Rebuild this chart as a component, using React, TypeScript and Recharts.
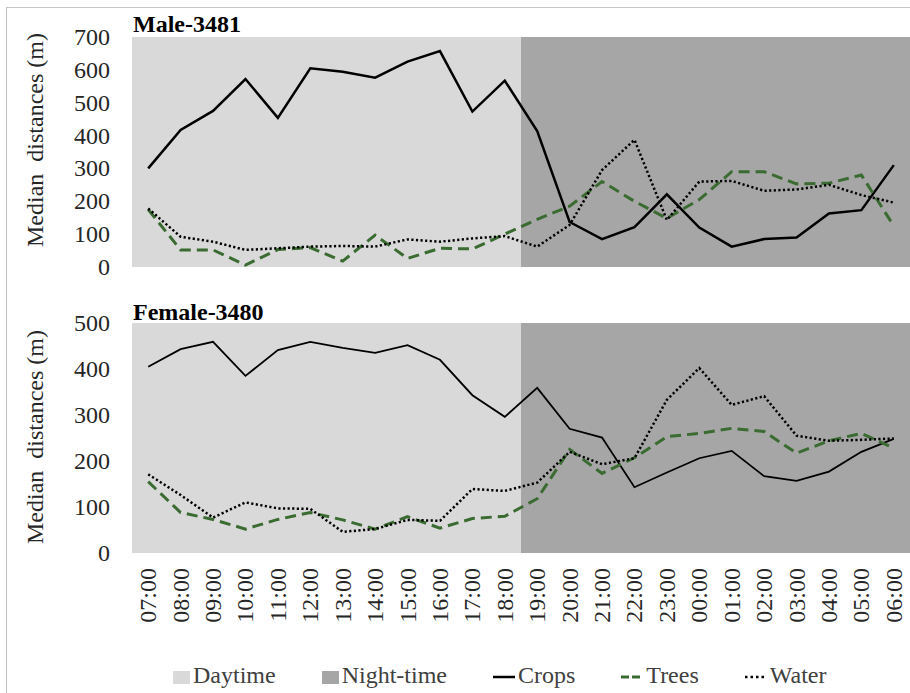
import React from 'react';
import { LineChart, Line, XAxis, YAxis, ReferenceArea } from 'recharts';

const hours = [
  '07:00', '08:00', '09:00', '10:00', '11:00', '12:00', '13:00', '14:00',
  '15:00', '16:00', '17:00', '18:00', '19:00', '20:00', '21:00', '22:00',
  '23:00', '00:00', '01:00', '02:00', '03:00', '04:00', '05:00', '06:00',
];

const maleCrops = [300, 417, 475, 572, 454, 605, 594, 576, 625, 657, 473, 567, 414, 137, 85, 121, 221, 120, 62, 85, 90, 163, 173, 310];
const maleTrees = [175, 52, 52, 6, 53, 59, 18, 97, 26, 57, 55, 100, 145, 185, 260, 200, 148, 205, 290, 290, 253, 255, 280, 125];
const maleWater = [178, 92, 77, 52, 57, 62, 64, 62, 84, 77, 87, 94, 62, 128, 295, 387, 143, 260, 262, 232, 236, 250, 219, 196];

const femaleCrops = [405, 443, 459, 385, 441, 459, 446, 435, 452, 420, 343, 296, 359, 270, 251, 143, 175, 206, 222, 167, 157, 177, 220, 248];
const femaleTrees = [155, 88, 73, 52, 73, 88, 72, 52, 79, 54, 75, 80, 118, 225, 173, 207, 253, 260, 271, 264, 217, 244, 260, 228];
const femaleWater = [171, 126, 77, 110, 97, 96, 46, 52, 72, 70, 139, 135, 153, 220, 193, 206, 333, 402, 322, 341, 255, 244, 246, 249];

const maleTicks = [0, 100, 200, 300, 400, 500, 600, 700];
const femaleTicks = [0, 100, 200, 300, 400, 500];

// day ends half way between 18:00 and 19:00
const dayEnd = 11.5;

const FONT = '"Liberation Serif", "Times New Roman", serif';
const DAY = '#d9d9d9';
const NIGHT = '#a6a6a6';
const GREEN = '#3a6b30';

const build = (crops: number[], trees: number[], water: number[]) =>
  hours.map((h, i) => ({ idx: i, hour: h, crops: crops[i], trees: trees[i], water: water[i] }));

const maleData = build(maleCrops, maleTrees, maleWater);
const femaleData = build(femaleCrops, femaleTrees, femaleWater);

const yLabel = (cy: number) => ({
  content: () => (
    <text
      x={35}
      y={cy}
      transform={`rotate(-90 35 ${cy})`}
      textAnchor="middle"
      dominantBaseline="central"
      fontSize={24}
      fontFamily={FONT}
      fill="#262626"
      style={{ whiteSpace: 'pre', fontFamily: FONT }}
    >
      {'Median  distances (m)'}
    </text>
  ),
});

const HourTick = ({ x, y, payload }: any) => (
  <text
    x={x}
    y={y}
    transform={`rotate(-90 ${x} ${y})`}
    textAnchor="end"
    dominantBaseline="central"
    fontSize={24}
    fontFamily={FONT}
    fill="#262626"
    style={{ fontFamily: FONT }}
  >
    {hours[payload.value]}
  </text>
);

const ValueTick = ({ x, y, payload }: any) => (
  <text
    x={x}
    y={y}
    textAnchor="end"
    dominantBaseline="central"
    fontSize={24}
    fill="#262626"
    style={{ fontFamily: FONT }}
  >
    {payload.value}
  </text>
);

const legendItems = [
  { label: 'Daytime', kind: 'box', color: DAY },
  { label: 'Night-time', kind: 'box', color: NIGHT },
  { label: 'Crops', kind: 'line', color: '#000', dash: undefined },
  { label: 'Trees', kind: 'line', color: GREEN, dash: '8 3' },
  { label: 'Water', kind: 'line', color: '#000', dash: '2.5 3' },
];

function Legend() {
  return (
    <div
      style={{
        position: 'absolute',
        left: 173,
        top: 661,
        height: 28,
        display: 'flex',
        alignItems: 'center',
        gap: 46,
        fontFamily: FONT,
        fontSize: 24,
        lineHeight: '28px',
        color: '#404040',
        whiteSpace: 'nowrap',
      }}
    >
      {legendItems.map((it) => (
        <div key={it.label} style={{ display: 'flex', alignItems: 'center', gap: 3 }}>
          {it.kind === 'box' ? (
            <div style={{ width: 17, height: 13, background: it.color, marginTop: 4 }} />
          ) : (
            <svg width={22} height={14} style={{ marginTop: 3 }}>
              <line
                x1={0}
                y1={7}
                x2={22}
                y2={7}
                stroke={it.color}
                strokeWidth={it.label === 'Trees' ? 3 : 2.5}
                strokeDasharray={it.dash}
              />
            </svg>
          )}
          <span>{it.label}</span>
        </div>
      ))}
    </div>
  );
}

const titleStyle: React.CSSProperties = {
  position: 'absolute',
  left: 133,
  fontFamily: FONT,
  fontWeight: 'bold',
  fontSize: 24,
  lineHeight: '24px',
  color: '#000',
};

export default function App() {
  return (
    <div
      style={{
        position: 'absolute',
        left: 0,
        top: 0,
        width: 910,
        height: 693,
        background: '#fff',
        overflow: 'hidden',
        fontFamily: FONT,
      }}
    >
      <div
        style={{
          position: 'absolute',
          left: 6,
          top: 7,
          width: 904,
          height: 686,
          borderTop: '1px solid #c4c4c4',
          borderLeft: '1px solid #c4c4c4',
        }}
      />

      <div style={{ position: 'absolute', left: 0, top: 0 }}>
        <LineChart width={910} height={280} data={maleData} margin={{ top: 37, right: 0, bottom: 13, left: 0 }}>
          <XAxis dataKey="idx" type="number" domain={[-0.5, 23.5]} hide />
          <YAxis
            width={132}
            domain={[0, 700]}
            ticks={maleTicks}
            interval={0}
            axisLine={false}
            tickLine={false}
            tickSize={0}
            tickMargin={22}
            tick={<ValueTick />}
            label={yLabel(140)}
          />
          <ReferenceArea x1={-0.5} x2={dayEnd} fill={DAY} fillOpacity={1} stroke="none" />
          <ReferenceArea x1={dayEnd} x2={23.5} fill={NIGHT} fillOpacity={1} stroke="none" />
          <Line type="linear" dataKey="crops" stroke="#000" strokeWidth={2.5} dot={false} isAnimationActive={false} />
          <Line type="linear" dataKey="trees" stroke={GREEN} strokeWidth={3} strokeDasharray="11 6" dot={false} isAnimationActive={false} />
          <Line type="linear" dataKey="water" stroke="#000" strokeWidth={2.5} strokeDasharray="2.2 2.4" dot={false} isAnimationActive={false} />
        </LineChart>
      </div>

      <div style={{ position: 'absolute', left: 0, top: 280 }}>
        <LineChart width={910} height={360} data={femaleData} margin={{ top: 43, right: 0, bottom: 0, left: 0 }}>
          <XAxis
            dataKey="idx"
            type="number"
            domain={[-0.5, 23.5]}
            ticks={hours.map((_, i) => i)}
            interval={0}
            height={87}
            axisLine={false}
            tickLine={false}
            tickSize={0}
            tickMargin={15}
            tick={<HourTick />}
          />
          <YAxis
            width={132}
            domain={[0, 500]}
            ticks={femaleTicks}
            interval={0}
            axisLine={false}
            tickLine={false}
            tickSize={0}
            tickMargin={22}
            tick={<ValueTick />}
            label={yLabel(437 - 280)}
          />
          <ReferenceArea x1={-0.5} x2={dayEnd} fill={DAY} fillOpacity={1} stroke="none" />
          <ReferenceArea x1={dayEnd} x2={23.5} fill={NIGHT} fillOpacity={1} stroke="none" />
          <Line type="linear" dataKey="crops" stroke="#000" strokeWidth={1.8} dot={false} isAnimationActive={false} />
          <Line type="linear" dataKey="trees" stroke={GREEN} strokeWidth={3} strokeDasharray="11 6" dot={false} isAnimationActive={false} />
          <Line type="linear" dataKey="water" stroke="#000" strokeWidth={2.5} strokeDasharray="2.2 2.4" dot={false} isAnimationActive={false} />
        </LineChart>
      </div>

      <div style={{ ...titleStyle, top: 12 }}>Male-3481</div>
      <div style={{ ...titleStyle, top: 300 }}>Female-3480</div>

      <Legend />
    </div>
  );
}
